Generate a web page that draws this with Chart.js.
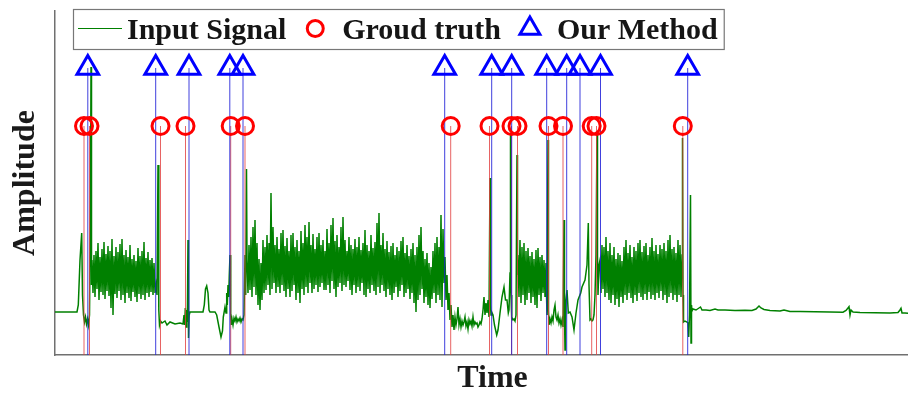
<!DOCTYPE html>
<html>
<head>
<meta charset="utf-8">
<script src="https://cdn.jsdelivr.net/npm/chart.js@4.4.1/dist/chart.umd.min.js"></script>
<style>
html,body{margin:0;padding:0;overflow:hidden;background:#ffffff;}
#c{display:block;}
</style>
</head>
<body>
<canvas id="c" width="932" height="400"></canvas>
<script>
// ---------------- DATA (time in samples, amplitude in arbitrary units) ----------------
const timeRange = [0, 875];
const ampRange = [0, 344];

// calm stretches: [time, amplitude]
const calm1 = [[0,43],[22,43],[23.3,50],[25,95],[26.7,122],[27.5,60],[28.5,40],[29.5,33],[30.5,38],[31.5,31],[32.5,36],[33.5,30],[34.5,40],[35.5,150],[36,288],[36.5,70]];
const calm2 = [[101,70],[102,60],[103,190],[103.8,45],[104.5,30],[105.5,34],[107,32],[110,34],[112,30],[115,33],[120,31],[125,32],[128,31],[129,40],[129.7,30],[130.3,47],[131,28],[131.7,45],[132.3,33],[133,115],[133.5,17],[134.2,40],[135,43],[148,43],[149.3,50],[150.5,66],[151.7,69],[153,62],[154,45],[155,43],[160,43],[161.7,40],[164,28],[166,18],[167.5,24],[168.3,38],[169.5,45],[170,48],[171,42],[171.7,62],[172.3,50],[173,70],[173.7,58],[174.3,80],[175,100],[175.7,40],[176.3,30],[177,36],[178,30],[179,37],[180,34],[181,38],[182,33],[183,36],[184,34],[185,37],[186,33],[187,36],[188,35],[189,40],[190,100],[190.7,60],[191.5,186]];
const calm3 = [[389,72],[390,98],[391,55],[392,80],[393,45],[394,62],[395,35],[396,50],[397,28],[398,40],[399,25],[400,38],[401,30],[402,36],[403,48],[404,30],[405,36],[406,28],[407,34],[408,30],[409,33],[410,38],[411,29],[412,33],[413,26],[414,35],[415,31],[416,34],[417,29],[418,38],[419,30],[420,33],[421,31],[422,32],[423,28],[424,30],[425,33],[426,31],[427,36],[428,45],[429,58],[430,40],[431,52],[432,42],[433,55],[434,38],[435,177],[435.5,50],[436,40],[436.7,43],[438,40],[439.5,30],[441.7,20],[443,25],[445,42],[447,58],[449,68],[450.5,55],[452,55],[453.3,42],[454,45],[455,82],[455.5,222],[456,60],[456.5,35],[457,38],[458,35],[459,36],[460,34],[461,40],[462,200],[462.5,80]];
const calm4 = [[491.5,60],[492,40],[493,215],[493.5,45],[494,30],[495,36],[496,32],[497,38],[498,34],[499,45],[500,50],[501,38],[502,35],[503,40],[504,32],[505,36],[506,30],[507,35],[508,28],[509,135],[509.5,40],[510,5],[510.5,30],[511,55],[512,65],[513.3,42],[515,43],[517,38],[519,25],[521,42],[523,55],[525.7,62],[527,68],[530,75],[532,90],[533.3,132],[534,70],[535,35],[536,36],[537,34],[538,35],[539,40],[540,60],[541,100],[542,222],[542.5,100],[543,60],[544,90]];
const calm5 = [[627.5,217],[628,60],[628.5,33],[630,34],[632,33],[633,32],[633.7,18],[634.5,40],[635.5,160],[636,12],[636.5,50],[637,44],[638,46],[641,45],[644,47],[645.5,48],[647,45],[651,45],[655,44.5],[660,46],[663,45],[670,45],[680,44.5],[690,44.7],[697,44.5],[701,46],[704,49],[706,47],[709,45.5],[715,44.5],[725,44],[729,45],[735,43.5],[745,43.5],[760,43.2],[775,43],[788,42.8],[791,44.5],[793,47],[794,48.3],[795,40],[796,45],[798,43],[805,42.5],[820,42.3],[835,42],[843,42.5],[845,45],[846,46.7],[847,42],[850,42],[853,41.7],[875,41.5]];

// dense noisy bursts, one sample per time unit
const burst1Start = 37;
const burst1 = [95,62,100,58,104,66,112,55,98,63,106,60,113,56,101,64,109,59,104,47,116,40,99,61,108,57,103,64,111,55,116,60,100,52,105,62,98,57,110,54,96,63,100,58,94,53,107,61,99,56,104,60,113,55,97,62,103,58,95,63,97,60,92,62];
const burst2Start = 192;
const burst2 = [95,62,110,65,118,58,128,68,135,60,112,50,96,45,92,55,115,62,108,65,
120,70,112,60,162,66,128,72,110,62,118,68,106,62,122,70,125,64,109,58,
117,66,104,58,120,64,122,70,108,55,115,62,104,52,124,66,112,60,130,68,
118,62,133,72,110,62,121,66,106,70,118,63,122,68,110,72,115,65,104,65,
126,70,112,62,130,74,137,66,114,58,120,68,108,72,128,64,138,70,115,68,
104,74,118,65,110,60,106,70,116,62,108,68,118,64,105,72,112,60,125,58,
110,66,104,62,120,70,107,64,113,60,132,68,142,62,110,70,122,64,106,58,
114,66,103,60,109,55,112,62,100,68,108,58,104,64,114,70,118,58,102,62,
110,66,99,56,106,62,112,52,100,43,108,55,120,60,128,66,104,52,96,58,
102,50,92,47,88,56,104,62,112,52,118,60,108,55,140,48,126];
const burst3Start = 463;
const burst3 = [100,58,115,52,108,60,112,50,104,55,107,62,99,52,103,58,96,50,105,47,107,60,98,54,100,62,95,58,92];
const burst4Start = 545;
const burst4 = [95,62,110,66,108,58,118,62,104,55,112,52,100,60,108,50,96,56,102,48,100,58,94,52,108,60,115,55,102,62,110,57,98,52,108,60,104,54,112,62,115,58,103,55,109,61,112,55,100,63,108,56,117,60,104,55,110,62,101,57,110,64,106,55,112,60,104,52,115,58,120,62,106,55,108,60,102,53,115,60,110,58,100];

// change points
const truthTimes  = [29, 34.5, 105.5, 130.5, 175.7, 190, 395.7, 434.5, 456.5, 462.5, 493.5, 508, 536.7, 541.5, 627.8];
const methodTimes = [32.8, 100.7, 134, 174.8, 188, 389.7, 436.7, 456.7, 491.7, 511.7, 525, 545.5, 632.7];
const truthLevel = 229;
const methodLevel = 287;

const labels = ['Input Signal', 'Groud truth', 'Our Method'];

// ---------------- BUILD ----------------
const pairs = list => list.map(p => ({x: p[0], y: p[1]}));
const run = (start, vals) => vals.map((v, i) => ({x: start + i, y: v}));
const signal = [].concat(
  pairs(calm1), run(burst1Start, burst1), pairs(calm2), run(burst2Start, burst2),
  pairs(calm3), run(burst3Start, burst3), pairs(calm4), run(burst4Start, burst4), pairs(calm5)
);
const stems = (times, level) => {
  const out = [];
  times.forEach(t => { out.push({x: t, y: 0}, {x: t, y: level}, {x: t, y: null}); });
  return out;
};
const marks = (times, level) => times.map(t => ({x: t, y: level}));

const GREEN = '#008000', RED = '#ff0000', BLUE = '#0000ff';
const FONT = '"Liberation Serif", "DejaVu Serif", "Times New Roman", serif';

const boxLegend = {
  id: 'boxLegend',
  afterDraw(chart) {
    const {ctx, chartArea} = chart;
    ctx.save();
    ctx.font = 'bold 30px ' + FONT;
    const w = labels.map(l => ctx.measureText(l).width);
    const left = chartArea.left + 18, top = 9, h = 40, mid = top + 19.5, base = top + 30;
    const total = 5 + 44 + 5 + w[0] + 56 + w[1] + 56 + w[2] + 6;
    ctx.fillStyle = '#ffffff';
    ctx.fillRect(left, top, total, h);
    ctx.strokeStyle = '#777777';
    ctx.lineWidth = 1.2;
    ctx.strokeRect(left + 0.5, top + 0.5, total, h);
    let x = left + 5;
    ctx.strokeStyle = GREEN; ctx.lineWidth = 1.2;
    ctx.beginPath(); ctx.moveTo(x, mid); ctx.lineTo(x + 44, mid); ctx.stroke();
    x += 49;
    ctx.fillStyle = '#151515'; ctx.textBaseline = 'alphabetic'; ctx.textAlign = 'left';
    ctx.fillText(labels[0], x, base);
    x += w[0] + 29;
    ctx.strokeStyle = RED; ctx.lineWidth = 3;
    ctx.beginPath(); ctx.arc(x, mid, 8, 0, Math.PI * 2); ctx.stroke();
    x += 27;
    ctx.fillText(labels[1], x, base);
    x += w[1] + 29;
    ctx.strokeStyle = BLUE; ctx.lineWidth = 3; ctx.lineJoin = 'miter';
    const r = 11.5;
    ctx.beginPath();
    ctx.moveTo(x, mid - r);
    ctx.lineTo(x + r * 0.866, mid + r / 2);
    ctx.lineTo(x - r * 0.866, mid + r / 2);
    ctx.closePath(); ctx.stroke();
    x += 27;
    ctx.fillText(labels[2], x, base);
    ctx.restore();
  }
};

new Chart(document.getElementById('c'), {
  type: 'scatter',
  data: {
    datasets: [
      {label: labels[2], data: marks(methodTimes, methodLevel), pointStyle: 'triangle', pointRadius: 12.5,
       pointBorderWidth: 3, borderColor: BLUE, backgroundColor: 'rgba(0,0,0,0)', order: 1},
      {label: labels[1], data: marks(truthTimes, truthLevel), pointStyle: 'circle', pointRadius: 8.5,
       pointBorderWidth: 3, borderColor: RED, backgroundColor: 'rgba(0,0,0,0)', order: 2},
      {label: labels[2] + ' lines', data: stems(methodTimes, methodLevel), showLine: true, spanGaps: false,
       pointRadius: 0, borderColor: 'rgba(30,30,215,0.85)', borderWidth: 1, order: 3},
      {label: labels[1] + ' lines', data: stems(truthTimes, truthLevel), showLine: true, spanGaps: false,
       pointRadius: 0, borderColor: 'rgba(225,60,60,0.8)', borderWidth: 1, order: 4},
      {label: labels[0], data: signal, showLine: true, pointRadius: 0, borderColor: GREEN,
       borderWidth: 1.5, tension: 0, order: 5}
    ]
  },
  options: {
    responsive: false,
    devicePixelRatio: 1,
    animation: false,
    events: [],
    layout: {autoPadding: false, padding: {left: 3, top: 11, right: 2, bottom: 0}},
    plugins: {legend: {display: false}, tooltip: {enabled: false}},
    scales: {
      x: {
        type: 'linear', min: timeRange[0], max: timeRange[1],
        ticks: {display: false}, grid: {display: false, drawTicks: false},
        border: {display: true, color: '#707070', width: 1.5},
        title: {display: true, text: 'Time', color: '#1a1a1a',
                font: {family: FONT, size: 32, weight: 'bold'}, padding: {top: 5, bottom: 1.6}}
      },
      y: {
        type: 'linear', min: ampRange[0], max: ampRange[1],
        ticks: {display: false}, grid: {display: false, drawTicks: false},
        border: {display: true, color: '#707070', width: 1.5},
        title: {display: true, text: 'Amplitude', color: '#1a1a1a',
                font: {family: FONT, size: 32, weight: 'bold'}, padding: {top: 4, bottom: 9.6}}
      }
    }
  },
  plugins: [boxLegend]
});
</script>
</body>
</html>
